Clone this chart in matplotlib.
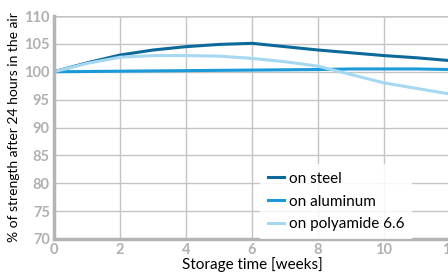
import matplotlib
matplotlib.use("Agg")
import matplotlib.pyplot as plt

weeks = [0, 1, 2, 3, 4, 5, 6, 7, 8, 9, 10, 11, 12]
steel = [100, 101.6, 103, 103.9, 104.5, 104.9, 105.1, 104.5, 103.9, 103.4, 102.9, 102.5, 102]
aluminum = [100, 100.05, 100.1, 100.15, 100.2, 100.25, 100.3, 100.35, 100.4, 100.5, 100.5, 100.5, 100.4]
polyamide = [100, 101.5, 102.6, 102.9, 102.9, 102.8, 102.4, 101.8, 101, 99.5, 98, 97, 96]

xticks = [0, 2, 4, 6, 8, 10, 12]
yticks = [70, 75, 80, 85, 90, 95, 100, 105, 110]

plt.rcParams['font.family'] = ['Lato', 'DejaVu Sans']

fig = plt.figure(figsize=(4.48, 2.78), dpi=100)
ax = fig.add_axes([54 / 448, 39 / 278, 396 / 448, 223 / 278])

ax.plot(weeks, steel, color='#0b6a9b', lw=2.2, label='on steel')
ax.plot(weeks, aluminum, color='#1a9ad8', lw=2.2, label='on aluminum')
ax.plot(weeks, polyamide, color='#a6d8f2', lw=2.2, label='on polyamide 6.6')

ax.set_xlim(0, 12)
ax.set_ylim(70, 110)
ax.set_xticks(xticks)
ax.set_yticks(yticks)
ax.grid(True, color='#c4c4c4', lw=1)
ax.set_axisbelow(True)
for s in ['top', 'right']:
    ax.spines[s].set_visible(False)
for s in ['left', 'bottom']:
    ax.spines[s].set_color('#b4b4b4')
    ax.spines[s].set_linewidth(2.5)
ax.axhline(110, color='#d8d8d8', lw=2, zorder=0)
ax.tick_params(length=0, labelsize=10.5, labelcolor='#b0b0b0', pad=3)
for t in ax.get_xticklabels() + ax.get_yticklabels():
    t.set_fontweight('bold')

ax.set_xlabel('Storage time [weeks]', fontsize=11, labelpad=0)
ax.set_ylabel('% of strength after 24 hours in the air', fontsize=10, labelpad=3)

leg = ax.legend(loc='lower left', bbox_to_anchor=(0.52, 0.0), fontsize=11,
                handlelength=1.1, handletextpad=0.3, labelspacing=0.58,
                frameon=True, fancybox=False, borderpad=0.5, borderaxespad=0.0)
leg.get_frame().set_edgecolor('none')
leg.get_frame().set_facecolor('white')
leg.get_frame().set_alpha(0.85)

fig.savefig('out.png', dpi=100)
